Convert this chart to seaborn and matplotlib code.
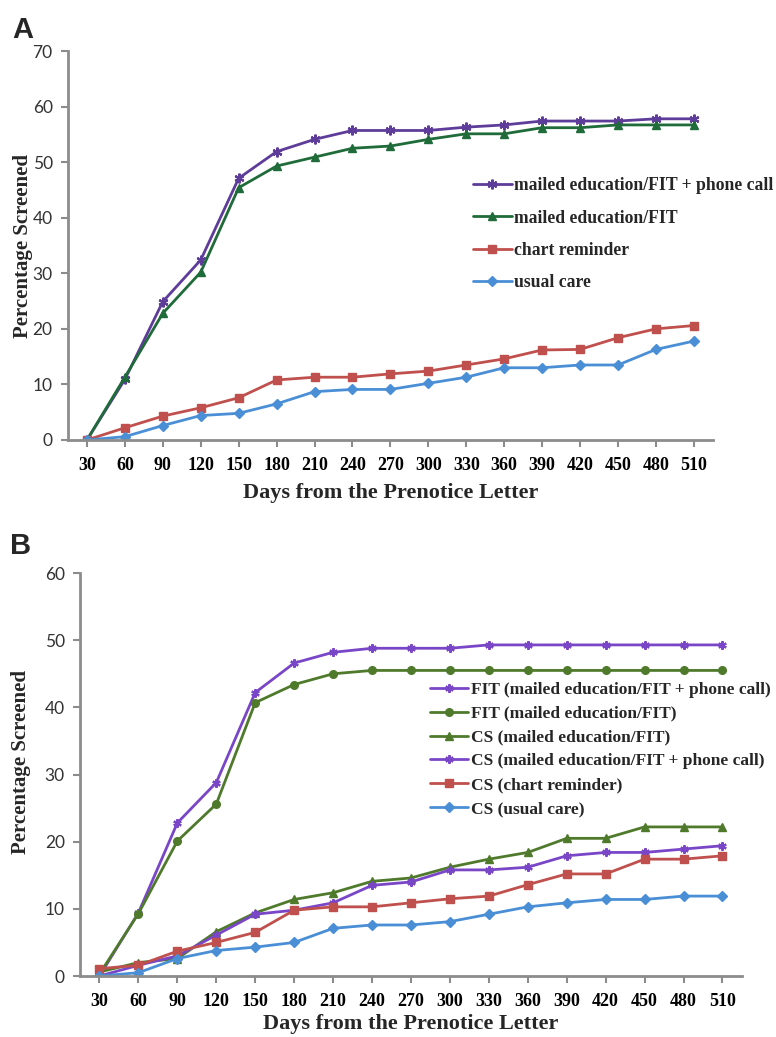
import matplotlib
matplotlib.use('Agg')
import matplotlib.pyplot as plt
import seaborn as sns

sns.set_style('white')
plt.rcParams['font.family'] = ['Lato', 'DejaVu Sans']

# Data
days = [30, 60, 90, 120, 150, 180, 210, 240, 270, 300, 330, 360, 390, 420, 450, 480, 510]

# Panel A
a_phone = [0, 10.9, 24.9, 32.4, 47.1, 51.9, 54.1, 55.7, 55.7, 55.7, 56.3, 56.7, 57.4, 57.4, 57.4, 57.8, 57.8]
a_mailed = [0, 11.3, 22.8, 30.2, 45.4, 49.3, 50.9, 52.5, 52.9, 54.1, 55.1, 55.1, 56.2, 56.2, 56.7, 56.7, 56.7]
a_chart = [0, 2.2, 4.3, 5.8, 7.6, 10.8, 11.3, 11.3, 11.9, 12.4, 13.5, 14.6, 16.2, 16.3, 18.4, 20.0, 20.6]
a_usual = [0, 0.6, 2.6, 4.4, 4.8, 6.5, 8.7, 9.1, 9.1, 10.2, 11.3, 13.0, 13.0, 13.5, 13.5, 16.3, 17.8]

# Panel B
b_fit_phone = [0, 9.4, 22.8, 28.8, 42.2, 46.6, 48.2, 48.8, 48.8, 48.8, 49.3, 49.3, 49.3, 49.3, 49.3, 49.3, 49.3]
b_fit_mailed = [0.3, 9.3, 20.1, 25.6, 40.7, 43.4, 45.0, 45.5, 45.5, 45.5, 45.5, 45.5, 45.5, 45.5, 45.5, 45.5, 45.5]
b_cs_mailed = [0.6, 2.0, 2.6, 6.6, 9.4, 11.4, 12.4, 14.1, 14.6, 16.2, 17.4, 18.4, 20.5, 20.5, 22.2, 22.2, 22.2]
b_cs_phone = [0, 1.6, 3.0, 6.1, 9.2, 9.8, 10.9, 13.5, 14.0, 15.8, 15.8, 16.2, 17.9, 18.4, 18.4, 18.9, 19.4]
b_cs_chart = [1.1, 1.6, 3.7, 5.0, 6.5, 9.8, 10.3, 10.3, 10.9, 11.5, 11.9, 13.6, 15.2, 15.2, 17.4, 17.4, 17.9]
b_cs_usual = [0, 0.5, 2.6, 3.8, 4.3, 5.0, 7.1, 7.6, 7.6, 8.1, 9.2, 10.3, 10.9, 11.4, 11.4, 11.9, 11.9]

purple_a = '#5E3C99'
purple_b = '#7A46C8'
green_a = '#1F6B3A'
green_b = '#4F7A2C'
red = '#C0504D'
blue = '#4A8FD6'
star = (6, 2, 0)

series_a = [
    (a_phone, 'mailed education/FIT + phone call', purple_a, star, 7),
    (a_mailed, 'mailed education/FIT', green_a, '^', 6),
    (a_chart, 'chart reminder', red, 's', 6),
    (a_usual, 'usual care', blue, 'D', 5),
]
series_b = [
    (b_fit_phone, 'FIT (mailed education/FIT + phone call)', purple_b, star, 6),
    (b_fit_mailed, 'FIT (mailed education/FIT)', green_b, 'o', 5.5),
    (b_cs_mailed, 'CS (mailed education/FIT)', green_b, '^', 6),
    (b_cs_phone, 'CS (mailed education/FIT + phone call)', purple_b, star, 6),
    (b_cs_chart, 'CS (chart reminder)', red, 's', 6),
    (b_cs_usual, 'CS (usual care)', blue, 'D', 5),
]

fig = plt.figure(figsize=(7.76, 10.37), dpi=100)
ax_a = fig.add_axes([0.0876, 0.5757, 0.831, 0.3751])
ax_b = fig.add_axes([0.1031, 0.0588, 0.853, 0.3886])

serif = ['Liberation Serif', 'DejaVu Serif']
axis_gray = '#8C8C8C'


def draw_panel(ax, series, ymax, leg_anchor, leg_font, leg_spacing, ylab_xy, xlab_y):
    for vals, name, color, mk, ms in series:
        sns.lineplot(x=days, y=vals, ax=ax, color=color, marker=mk, markersize=ms,
                     markeredgecolor=color, markeredgewidth=1.6 if mk == star else 1,
                     linewidth=2, label=name)
    ax.set_xlim(15, 525)
    ax.set_ylim(0, ymax)
    ax.set_xticks(days)
    ax.set_xticklabels([str(d) for d in days], family=serif, fontweight='bold', fontsize=13)
    ax.set_yticks(range(0, ymax + 1, 10))
    ax.tick_params(axis='y', labelsize=12.5, colors=axis_gray, labelcolor='#333333',
                   length=5, width=1.5, direction='out', left=True, pad=6)
    ax.tick_params(axis='x', colors=axis_gray, labelcolor='black',
                   length=5, width=1.5, direction='out', bottom=True, pad=7)
    for side in ['top', 'right']:
        ax.spines[side].set_visible(False)
    for side in ['left', 'bottom']:
        ax.spines[side].set_color(axis_gray)
        ax.spines[side].set_linewidth(2)
    ax.set_xlabel('Days from the Prenotice Letter', family=serif, fontweight='bold',
                  fontsize=16, va='top')
    ax.xaxis.set_label_coords(0.5, xlab_y)
    ax.set_ylabel('Percentage Screened', family=serif, fontweight='bold', fontsize=15)
    ax.yaxis.set_label_coords(*ylab_xy)
    leg = ax.legend(loc='upper left', bbox_to_anchor=leg_anchor, frameon=False,
                    prop={'family': serif, 'weight': 'bold', 'size': leg_font},
                    handlelength=2.2, handletextpad=0.15, labelspacing=leg_spacing,
                    borderpad=0, borderaxespad=0)
    return leg


draw_panel(ax_a, series_a, 70, (0.628, 0.675), 12.7, 0.86, (-0.054, 0.5), -0.11)
draw_panel(ax_b, series_b, 60, (0.529, 0.73), 12.5, 0.44, (-0.074, 0.531), -0.093)

fig.text(12 / 776, 1 - 38 / 1037, 'A', family=['Liberation Sans', 'DejaVu Sans'],
         fontweight='bold', fontsize=21, va='baseline')
fig.text(10 / 776, 1 - 554 / 1037, 'B', family=['Liberation Sans', 'DejaVu Sans'],
         fontweight='bold', fontsize=21, va='baseline')

fig.savefig('out.png', dpi=100)
